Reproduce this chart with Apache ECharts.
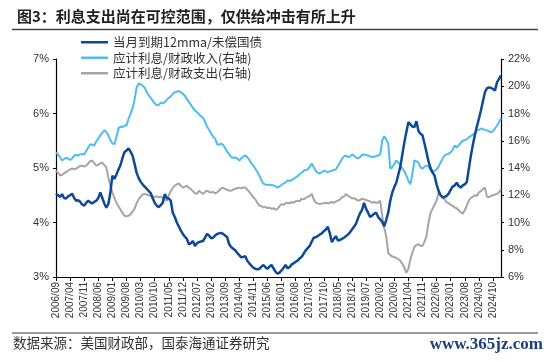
<!DOCTYPE html>
<html><head><meta charset="utf-8">
<script src="https://cdn.jsdelivr.net/npm/echarts@6/dist/echarts.min.js"></script>
<style>html,body{margin:0;padding:0;background:#fff;}#c{width:550px;height:362px;}</style>
</head><body><div id="c"></div>
<script>
// categories: monthly from 2006/09 to 2025/02
const startYear = 2006, startMonth = 9, monthCount = 222;
const categories = [];
for (let i = 0; i < monthCount; i++) {
  const m = startMonth - 1 + i;
  const y = startYear + Math.floor(m / 12);
  const mm = (m % 12) + 1;
  categories.push(y + '/' + (mm < 10 ? '0' + mm : mm));
}
const legendNames = ['当月到期12mma/未偿国债', '应计利息/财政收入(右轴)', '应计利息/财政支出(右轴)'];
// 当月到期12mma/未偿国债 (left axis, %)
const maturing = [
4.53,4.50,4.47,4.52,4.45,4.44,4.48,4.50,4.53,4.45,4.40,4.41,4.38,4.33,4.31,4.36,4.40,4.37,4.35,4.38,
4.40,4.45,4.55,4.45,4.35,4.27,4.34,4.55,4.86,4.80,4.88,4.97,5.05,5.18,5.29,5.32,5.36,5.30,5.23,5.08,
4.92,4.82,4.75,4.70,4.66,4.62,4.58,4.54,4.45,4.36,4.31,4.28,4.32,4.36,4.52,4.45,4.44,4.40,4.18,4.10,
4.00,3.93,3.85,3.79,3.74,3.70,3.60,3.62,3.66,3.57,3.62,3.64,3.65,3.66,3.72,3.79,3.76,3.71,3.72,3.76,
3.79,3.80,3.81,3.79,3.76,3.73,3.60,3.55,3.52,3.49,3.44,3.40,3.36,3.37,3.38,3.30,3.25,3.21,3.17,3.15,
3.14,3.15,3.19,3.22,3.18,3.15,3.19,3.22,3.16,3.10,3.06,3.08,3.12,3.17,3.22,3.16,3.18,3.23,3.25,3.28,
3.30,3.34,3.37,3.43,3.49,3.53,3.57,3.65,3.72,3.73,3.75,3.78,3.80,3.84,3.87,3.92,3.80,3.64,3.70,3.75,
3.67,3.68,3.70,3.72,3.75,3.78,3.82,3.87,3.92,3.98,4.08,4.17,4.23,4.36,4.25,4.18,4.10,4.13,4.16,4.18,
4.10,4.06,4.01,3.93,4.05,4.18,4.40,4.55,4.65,4.73,4.88,5.02,5.25,5.47,5.66,5.84,5.80,5.76,5.75,5.86,
5.68,5.63,5.60,5.45,5.29,5.12,5.00,4.92,4.86,4.70,4.58,4.50,4.46,4.47,4.49,4.53,4.60,4.66,4.68,4.73,
4.67,4.64,4.68,4.70,4.74,4.98,5.22,5.42,5.60,5.76,5.90,6.05,6.22,6.39,6.46,6.48,6.47,6.45,6.42,6.57,
6.63,6.70];
// 应计利息/财政收入 (right axis, %)
const interestToRevenue = [
15.14,15.00,14.80,14.55,14.65,14.75,14.70,14.58,14.70,14.92,14.95,14.90,15.00,15.02,15.00,15.25,15.50,15.75,15.70,15.65,
15.95,16.15,16.40,16.60,16.76,16.65,16.40,16.05,15.80,15.75,16.25,16.90,17.05,17.00,17.10,17.13,17.60,17.95,18.39,19.00,
19.90,20.20,20.15,20.05,19.90,19.60,19.35,19.15,18.95,18.75,18.60,18.62,18.80,18.75,18.83,19.00,19.15,19.25,19.45,19.57,
19.60,19.65,19.55,19.45,19.30,19.05,18.85,18.65,18.40,18.24,18.10,17.95,17.80,17.70,17.40,17.05,16.80,16.55,16.30,16.17,
15.75,15.70,15.80,15.70,15.45,15.20,15.00,14.80,14.75,14.77,14.70,14.55,14.70,14.85,14.92,14.80,14.60,14.35,14.18,13.95,
13.70,13.45,13.10,12.86,12.80,12.75,12.78,12.75,12.72,12.65,12.56,12.65,12.75,12.86,12.95,13.08,13.05,13.10,13.20,13.30,
13.40,13.55,13.65,13.80,13.85,13.90,14.10,14.33,14.05,13.80,13.65,13.60,13.70,13.80,13.75,13.70,13.75,13.80,13.85,13.90,
14.15,14.40,14.65,14.85,14.92,14.80,14.85,15.00,14.90,14.77,14.70,14.80,14.95,15.00,14.95,14.92,14.85,14.80,14.82,14.88,
14.92,15.00,16.00,16.33,16.10,15.80,13.96,14.05,14.30,14.55,14.40,14.20,13.95,13.75,13.45,13.05,12.80,13.60,14.55,14.50,
14.40,14.05,13.96,14.10,14.18,14.10,13.85,13.67,13.80,13.90,14.10,14.40,14.70,14.92,15.00,15.05,15.14,15.35,15.66,15.50,
15.65,15.85,16.00,16.05,16.10,16.25,16.35,16.45,16.54,16.76,16.80,16.90,16.85,16.80,16.76,16.70,16.62,16.70,16.90,17.10,
17.35,17.65];
// 应计利息/财政支出 (right axis, %)
const interestToSpending = [
13.80,13.65,13.45,13.50,13.60,13.70,13.80,13.90,13.96,13.90,13.96,14.05,14.15,14.18,14.10,14.18,14.35,14.50,14.55,14.35,
14.18,14.25,14.35,14.40,14.20,14.05,13.30,12.70,12.20,11.80,11.45,11.20,10.95,10.70,10.50,10.45,10.50,10.60,10.80,11.00,
11.40,11.70,11.90,12.05,12.10,12.05,12.00,11.95,11.90,11.88,11.92,11.85,11.90,11.80,11.70,11.60,12.00,12.30,12.56,12.70,
12.80,12.86,12.70,12.56,12.62,12.70,12.55,12.45,12.30,12.15,12.10,12.33,12.20,12.10,12.25,12.33,12.25,12.20,12.25,12.15,
12.20,12.35,12.50,12.56,12.45,12.40,12.35,12.33,12.42,12.48,12.52,12.56,12.50,12.58,12.56,12.40,12.25,12.05,11.85,11.70,
11.45,11.25,11.20,11.10,11.15,11.05,11.10,11.00,11.05,10.95,11.00,11.20,11.35,11.30,11.40,11.45,11.40,11.50,11.45,11.55,
11.60,11.55,11.75,11.70,11.80,11.90,11.95,12.10,11.70,11.45,11.40,11.35,11.40,11.42,11.45,11.40,11.45,11.50,11.45,11.55,
11.60,11.70,11.85,11.90,12.10,11.95,11.90,11.75,11.80,11.70,11.60,11.65,11.75,11.70,11.65,11.60,11.55,11.45,11.50,11.45,
11.45,11.60,10.50,9.60,9.00,7.77,7.60,7.50,7.45,7.40,7.30,7.20,6.95,6.70,6.30,6.60,7.30,7.80,8.20,8.35,
8.40,8.30,8.28,8.60,9.00,10.00,10.70,11.00,11.30,11.60,12.20,12.00,11.90,11.70,11.50,11.40,11.30,11.23,11.10,11.05,
10.90,10.75,10.64,10.90,11.23,11.60,11.80,11.90,12.00,11.95,12.20,12.30,12.45,12.56,11.90,11.85,11.95,12.00,12.05,12.10,
12.20,12.45];

const chart = echarts.init(document.getElementById('c'), null, {renderer: 'canvas'});
const cjk = '"Noto Sans CJK SC", sans-serif';
chart.setOption({
  animation: false,
  backgroundColor: '#fff',
  title: {
    text: '图3：利息支出尚在可控范围，仅供给冲击有所上升',
    left: 12, top: 4,
    textStyle: {fontFamily: cjk, fontSize: 15, fontWeight: 'bold', color: '#222'}
  },
  graphic: [
    {type: 'line', shape: {x1: 12, y1: 29.5, x2: 538, y2: 29.5}, style: {stroke: '#444', lineWidth: 1.5}},
    {type: 'line', shape: {x1: 12, y1: 333, x2: 538, y2: 333}, style: {stroke: '#777', lineWidth: 1.5}},
    {type: 'text', left: 13, top: 336, style: {text: '数据来源：美国财政部，国泰海通证券研究', font: '13.5px "Noto Sans CJK SC"', fill: '#333'}},
    {type: 'text', right: 7, top: 336, style: {text: 'www.365jz.com', font: 'bold 17px "Liberation Serif", serif', fill: '#1d3e7a'}}
  ],
  legend: {
    orient: 'vertical', left: 76, top: 31, itemGap: 3, itemWidth: 27, itemHeight: 13,
    icon: 'path://M0,5.5 L27,5.5 L27,8 L0,8 Z',
    data: legendNames,
    textStyle: {fontFamily: cjk, fontSize: 12.5, color: '#333'}
  },
  grid: {left: 56, right: 49, top: 59, bottom: 85},
  xAxis: {
    type: 'category', data: categories, boundaryGap: false,
    axisLine: {lineStyle: {color: '#000', width: 1}},
    axisTick: {interval: 6, length: 4, lineStyle: {color: '#000'}},
    axisLabel: {interval: 6, rotate: 90, fontSize: 10, color: '#333', fontFamily: 'Liberation Sans, Arial', margin: 5}
  },
  yAxis: [
    {type: 'value', min: 3, max: 7, interval: 1, position: 'left',
     axisLine: {show: true, lineStyle: {color: '#000', width: 1.2}},
     axisTick: {show: true, length: 3, lineStyle: {color: '#000'}},
     splitLine: {show: false},
     axisLabel: {formatter: '{value}%', fontSize: 11, color: '#333', fontFamily: 'Liberation Sans, Arial', margin: 7}},
    {type: 'value', min: 6, max: 22, interval: 2, position: 'right',
     axisLine: {show: true, lineStyle: {color: '#000', width: 1.2}},
     axisTick: {show: true, length: 3, lineStyle: {color: '#000'}},
     splitLine: {show: false},
     axisLabel: {formatter: '{value}%', fontSize: 11, color: '#333', fontFamily: 'Liberation Sans, Arial', margin: 7}}
  ],
  series: [
    {name: legendNames[2], type: 'line', yAxisIndex: 1, data: interestToSpending, symbol: 'none',
     lineStyle: {color: '#a5a5a5', width: 2}, itemStyle: {color: '#a5a5a5'}, z: 2},
    {name: legendNames[1], type: 'line', yAxisIndex: 1, data: interestToRevenue, symbol: 'none',
     lineStyle: {color: '#4dbdf0', width: 2}, itemStyle: {color: '#4dbdf0'}, z: 3},
    {name: legendNames[0], type: 'line', yAxisIndex: 0, data: maturing, symbol: 'none',
     lineStyle: {color: '#0c4a98', width: 2.5}, itemStyle: {color: '#0c4a98'}, z: 4}
  ]
});
</script></body></html>
